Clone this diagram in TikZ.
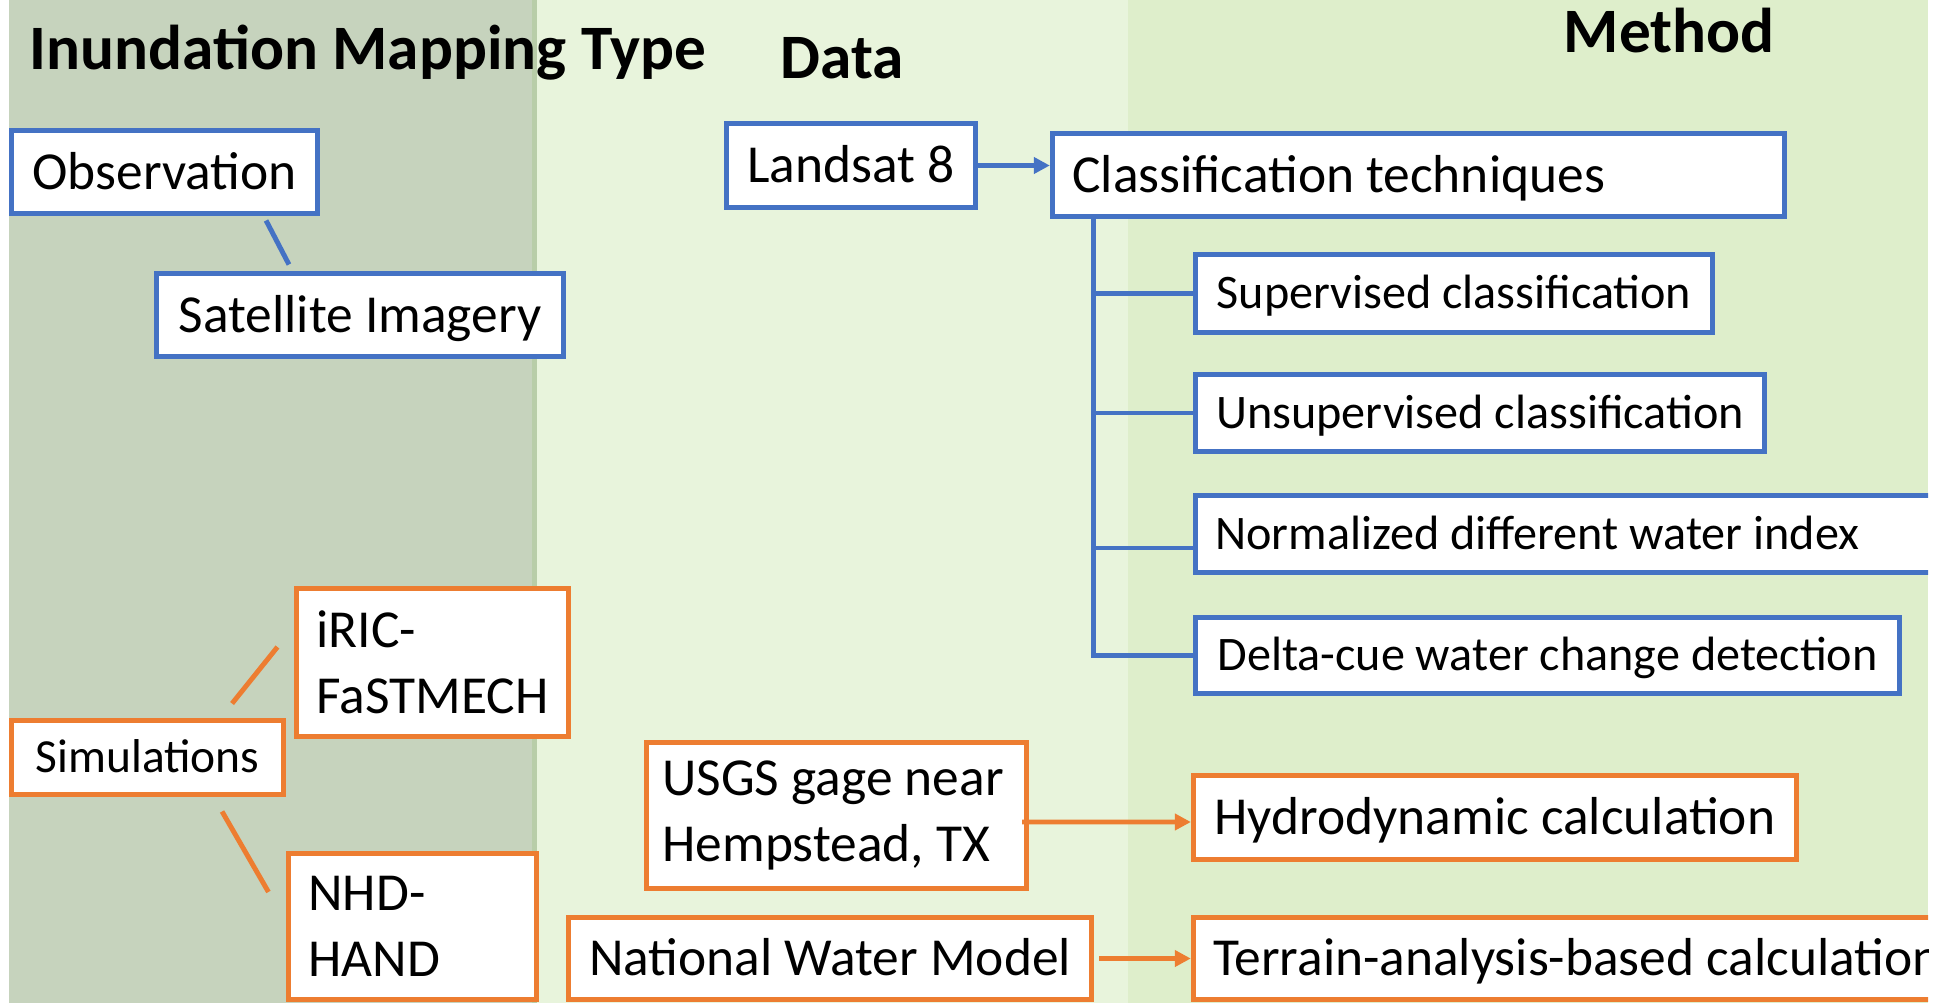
\documentclass[tikz,border=0pt]{standalone}
\usepackage{fontspec}
\setmainfont{Carlito}
\usetikzlibrary{arrows.meta}
\definecolor{myblue}{HTML}{4472C4}
\definecolor{myorange}{HTML}{ED7D31}
\definecolor{leftbg}{HTML}{C6D3BD}
\definecolor{sepbg}{HTML}{B8CDA8}
\definecolor{midbg}{HTML}{E8F4DC}
\definecolor{rightbg}{HTML}{DEEECB}

\begin{document}
\begin{tikzpicture}[x=0.01cm, y=-0.01cm,
  box/.style={draw, line width=1.4pt, fill=white, inner xsep=0.2cm, inner ysep=0cm,
    font=\fontsize{15.2}{18.7}\selectfont},
  bbox/.style={box, draw=myblue, text height=13.3pt, text depth=3.6pt},
  obox/.style={box, draw=myorange, text height=13.3pt, text depth=3.6pt},
  small/.style={font=\fontsize{13.7}{16.5}\selectfont, text height=12pt, text depth=3.3pt},
  tall/.style={text height=, text depth=, align=flush left},
  head/.style={anchor=base west, inner sep=0pt, font=\fontsize{18}{21.6}\selectfont\bfseries},
  bline/.style={draw=myblue, line width=1.4pt},
  oline/.style={draw=myorange, line width=1.4pt},
  >={Triangle[length=0.16cm, width=0.16cm]}]
\useasboundingbox (0,0) rectangle (1954,1003);
\fill[leftbg] (9,0) rectangle (532,1003);
\fill[sepbg] (532,0) rectangle (537,1003);
\fill[midbg] (537,0) rectangle (1128,1003);
\fill[rightbg] (1128,0) rectangle (1928,1003);

\begin{scope}
\clip (9,0) rectangle (1928,1003);
\node[head] (hmap) at (29,70) {Inundation Mapping Type};
\node[head] (hdata) at (780,78) {Data};
\node[head] (hmeth) at (1563,52) {Method};

\node[bbox, minimum width=3.06cm, minimum height=0.83cm] (obs) at (164.5,172) {Observation};
\node[bbox, minimum width=4.07cm, minimum height=0.83cm] (sat) at (360,315) {Satellite Imagery};
\node[bbox, minimum width=2.49cm, minimum height=0.84cm] (land) at (851,165.5) {Landsat 8};
\node[bbox, minimum width=7.32cm, minimum height=0.83cm, text width=6.92cm, align=flush left] (cls) at (1418.5,175) {Classification techniques};
\node[bbox, small, minimum width=5.17cm, minimum height=0.78cm] (sup) at (1454,293.5) {Supervised classification};
\node[bbox, small, minimum width=5.69cm, minimum height=0.77cm] (unsup) at (1480,413) {Unsupervised classification};
\node[bbox, small, minimum width=7.95cm, minimum height=0.77cm, text width=7.55cm, align=flush left] (ndwi) at (1593,534) {Normalized different water index};
\node[bbox, small, minimum width=7.04cm, minimum height=0.76cm] (delta) at (1547.5,655.5) {Delta-cue water change detection};

\node[obox, minimum width=2.72cm, minimum height=0.74cm, text height=12pt, text depth=3.5pt,
  font=\fontsize{13.5}{16}\selectfont] (sim) at (147.5,757.5) {Simulations};
\node[obox, tall, minimum width=2.72cm, minimum height=1.48cm, text width=2.32cm] (iric) at (432.5,662.5) {iRIC-\\FaSTMECH};
\node[obox, tall, minimum width=2.48cm, minimum height=1.46cm, text width=2.08cm] (nhd) at (412.5,926.5) {NHD-\\HAND};
\node[obox, tall, minimum width=3.80cm, minimum height=1.46cm, inner xsep=0.16cm, text width=3.48cm] (usgs) at (836.5,815.5) {USGS gage near\\Hempstead, TX};
\node[obox, minimum width=5.23cm, minimum height=0.82cm] (nwm) at (830,958.5) {National Water Model};
\node[obox, minimum width=6.03cm, minimum height=0.84cm] (hydro) at (1495,817.5) {Hydrodynamic calculation};
\node[obox, minimum width=8.0cm, minimum height=0.82cm, text width=7.6cm, align=flush left] (terr) at (1593.5,958.5) {Terrain-analysis-based calculation};

\draw[bline] ([xshift=1.015cm,yshift=-0.045cm]obs.south) -- ([xshift=-0.71cm,yshift=0.065cm]sat.north);
\draw[bline,->] (land.east) -- (land.east -| cls.west);
\draw[bline] ([xshift=0.435cm]cls.south west) |- (sup.west);
\draw[bline] ([xshift=0.435cm]cls.south west) |- (unsup.west);
\draw[bline] ([xshift=0.435cm]cls.south west) |- ([yshift=-0.14cm]ndwi.west);
\draw[bline] ([xshift=0.435cm]cls.south west) |- (delta.west);

\draw[oline] ([xshift=0.845cm,yshift=0.145cm]sim.north) -- ([xshift=-0.165cm,yshift=0.155cm]iric.west);
\draw[oline] ([xshift=0.745cm,yshift=-0.145cm]sim.south) -- ([xshift=-0.175cm,yshift=0.345cm]nhd.west);
\draw[oline,->] ([xshift=-0.07cm,yshift=-0.065cm]usgs.east) -- ([yshift=-0.045cm]hydro.west);
\draw[oline,->] ([xshift=0.05cm]nwm.east) -- (terr.west);
\end{scope}
\end{tikzpicture}
\end{document}
